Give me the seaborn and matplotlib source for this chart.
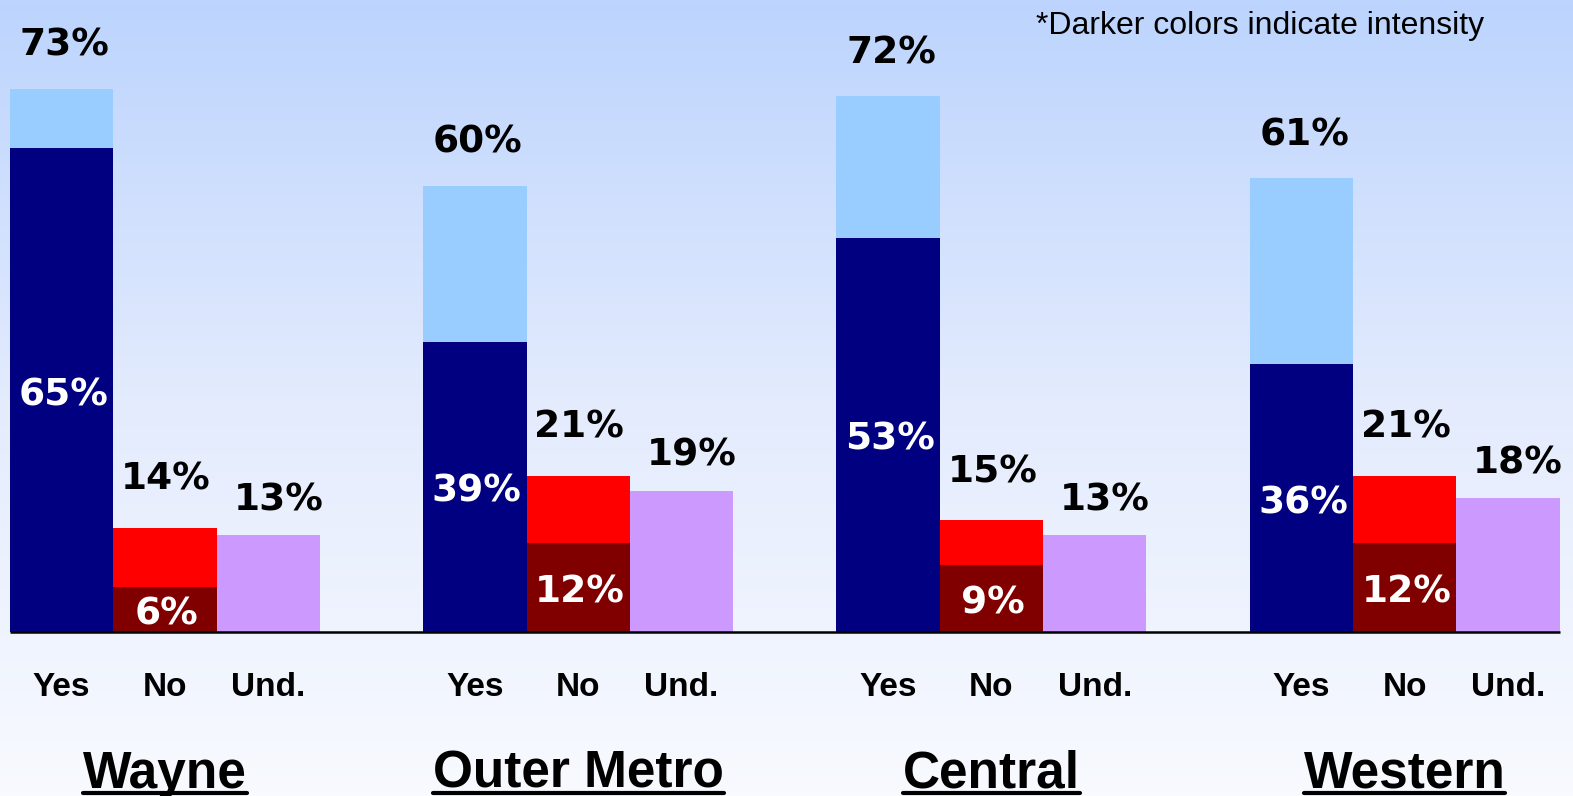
import numpy as np
import pandas as pd
import matplotlib
matplotlib.use("Agg")
import matplotlib.pyplot as plt
from matplotlib.colors import LinearSegmentedColormap
from matplotlib.lines import Line2D
import seaborn as sns

# data
regions = ["Wayne", "Outer Metro", "Central", "Western"]
responses = ["Yes", "No", "Und."]
yes_total = [73, 60, 72, 61]
yes_strong = [65, 39, 53, 36]
no_total = [14, 21, 15, 21]
no_strong = [6, 12, 9, 12]
und_total = [13, 19, 13, 18]

total_colors = {"Yes": "#99ccff", "No": "#ff0000", "Und.": "#cc99ff"}
strong_colors = {"Yes": "#000080", "No": "#800000"}

rows = []
for g, reg in enumerate(regions):
    vals = {"Yes": (yes_total[g], yes_strong[g]),
            "No": (no_total[g], no_strong[g]),
            "Und.": (und_total[g], None)}
    for i, resp in enumerate(responses):
        tot, strong = vals[resp]
        rows.append({"region": reg, "response": resp, "pos": 4 * g + i,
                     "total": tot, "strong": strong})
df = pd.DataFrame(rows)

sns.set_theme(style="white")
fig = plt.figure(figsize=(15.73, 7.96), dpi=100)
ax = fig.add_axes([0, 0, 1, 1])

px = 103.3  # pixels per x unit
py = 7.44   # pixels per percent
x0 = -0.5 - 10 / px
x1 = x0 + 1573 / px
y1 = 632 / py
y0 = -(796 - 632) / py

# gradient background
cmap = LinearSegmentedColormap.from_list("bg", ["#f8faff", "#e3ebfd", "#bcd4fe"])
grad = np.linspace(0, 1, 256).reshape(-1, 1)
ax.imshow(grad, cmap=cmap, aspect="auto", extent=[x0, x1, y0, y1],
          origin="lower", zorder=0)

sns.barplot(data=df, x="pos", y="total", hue="response", palette=total_colors,
            native_scale=True, dodge=False, width=1, errorbar=None,
            saturation=1, legend=False, linewidth=0, ax=ax, zorder=2)
strong_df = df.dropna(subset=["strong"])
sns.barplot(data=strong_df, x="pos", y="strong", hue="response",
            palette=strong_colors, native_scale=True, dodge=False, width=1,
            errorbar=None, saturation=1, legend=False, linewidth=0, ax=ax,
            zorder=3)

ax.set_xlim(x0, x1)
ax.set_ylim(y0, y1)
ax.axis("off")

ax.hlines(0, df["pos"].min() - 0.5, df["pos"].max() + 0.5, color="black",
          lw=1.8, zorder=4)

pct_font = dict(family="DejaVu Sans", fontweight="bold", fontsize=27)
offsets = {"Yes": 43, "No": 48, "Und.": 35}
xshift = {"Yes": 3, "No": 1, "Und.": 10}
for _, r in df.iterrows():
    ax.annotate(f"{r['total']}%", (r["pos"], r["total"]),
                xytext=(xshift[r["response"]], offsets[r["response"]]),
                textcoords="offset pixels", ha="center", va="center",
                color="black", zorder=5, **pct_font)
    if not pd.isna(r["strong"]):
        ax.annotate(f"{int(r['strong'])}%", (r["pos"], r["strong"] / 2),
                    xytext=(2, -5), textcoords="offset pixels",
                    ha="center", va="center", color="white", zorder=5,
                    **pct_font)
    ax.text(r["pos"], -56 / py, r["response"], ha="center", va="center",
            family="Liberation Sans", fontweight="bold", fontsize=24,
            color="black")

name_texts = []
for g, reg in enumerate(regions):
    t = ax.text(4 * g + 1, -(788 - 632) / py, reg, ha="center", va="baseline",
                family="Liberation Sans", fontweight="bold", fontsize=37,
                color="black")
    name_texts.append(t)

fig.text(1036 / 1573, 1 - 26 / 796, "*Darker colors indicate intensity",
         ha="left", va="center", family="Liberation Sans", fontsize=23,
         color="black")

# underline the region names
fig.canvas.draw()
renderer = fig.canvas.get_renderer()
for t in name_texts:
    bb = t.get_window_extent(renderer)
    yline = 1 - 793 / 796
    fig.add_artist(Line2D([bb.x0 / 1573, bb.x1 / 1573], [yline, yline],
                          color="black", lw=3, transform=fig.transFigure))

fig.savefig("out.png", dpi=100)
